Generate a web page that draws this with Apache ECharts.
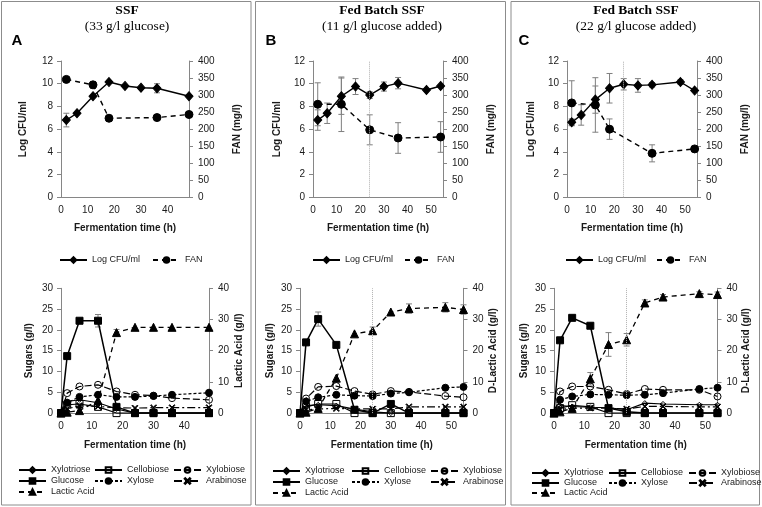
<!DOCTYPE html>
<html><head><meta charset="utf-8">
<script src="https://cdn.jsdelivr.net/npm/echarts@6/dist/echarts.min.js"></script>
<style>html,body{margin:0;padding:0;background:#fff}#c{width:762px;height:507px}</style>
</head><body><div id="c"></div><script>
const SANS = 'Liberation Sans, Arial, sans-serif';
const SERIF = 'Liberation Serif, Times New Roman, serif';
const feedTime = 24;

// ---------- Panel A (SSF) ----------
const cfuTimeA = [2, 6, 12, 18, 24, 30, 36, 48];
const cfuA     = [6.8, 7.4, 8.9, 10.15, 9.8, 9.65, 9.6, 8.9];
const cfuErrA  = [0.6, 0, 0, 0, 0, 0, 0.4, 0];
const fanTimeA = [2, 12, 18, 36, 48];
const fanA     = [346, 330, 232, 234, 243];
const fanErrA  = [0, 10, 0, 0, 0];
const tA          = [0, 2, 6, 12, 18, 24, 30, 36, 48];
const xylotrioseA = [0, 2.8, 3.2, 2.5, 1.0, 0, 0, 0, 0];
const cellobioseA = [0, 2.0, 2.2, 1.5, 0, 0, 0, 0, 0];
const xylobioseA  = [0, 4.8, 6.4, 6.8, 5.2, 4.4, 4.2, 3.6, 3.2];
const glucoseA    = [0, 13.7, 22.2, 22.2, 1.5, 0, 0, 0, 0];
const glucoseErrA = [0, 0, 0, 1.5, 0, 0, 0, 0, 0];
const xyloseA     = [0, 2.5, 3.9, 4.4, 3.9, 3.9, 4.1, 4.4, 4.9];
const arabinoseA  = [0, 1.0, 1.8, 1.6, 1.3, 1.2, 1.3, 1.3, 1.3];
const lacticA     = [0, 0.3, 0.8, 4.0, 25.8, 27.5, 27.5, 27.5, 27.5];
const lacticErrA  = [0, 0, 0, 0, 1.0, 0, 0, 0, 0];

// ---------- Panel B (Fed batch, 11 g/l) ----------
const cfuTimeB = [2, 6, 12, 18, 24, 30, 36, 48, 54];
const cfuB     = [6.8, 7.4, 8.9, 9.75, 9.0, 9.75, 10.05, 9.45, 9.8];
const cfuErrB  = [0.9, 0.9, 1.6, 0.7, 0.3, 0.4, 0.5, 0, 0];
const fanTimeB = [2, 12, 24, 36, 54];
const fanB     = [273, 273, 198, 174, 177];
const fanErrB  = [63, 80, 44, 45, 45];
const tB          = [0, 2, 6, 12, 18, 24, 30, 36, 48, 54];
const xylotrioseB = [0, 1.8, 2.0, 1.8, 1.0, 0.3, 0, 0, 0, 0];
const cellobioseB = [0, 1.5, 2.2, 2.2, 0, 0, 0, 0, 0, 0];
const xylobioseB  = [0, 3.5, 6.3, 6.5, 5.3, 4.5, 5.3, 5.1, 4.1, 3.8];
const glucoseB    = [0, 17.0, 22.6, 16.4, 0.8, 0, 2.2, 0, 0, 0];
const glucoseErrB = [0, 0.6, 1.7, 0, 0, 0, 0, 0, 0, 0];
const xyloseB     = [0, 2.8, 3.8, 4.4, 4.2, 4.1, 4.7, 5.0, 6.1, 6.3];
const arabinoseB  = [0, 0.8, 1.0, 1.1, 1.0, 1.0, 1.0, 1.5, 1.5, 1.5];
const lacticB     = [0, 0.3, 1.5, 11.2, 25.4, 26.4, 32.4, 33.5, 33.9, 33.2];
const lacticErrB  = [0, 0, 0, 0, 0, 1.2, 0, 1.5, 1.5, 1.5];

// ---------- Panel C (Fed batch, 22 g/l) ----------
const cfuTimeC = [2, 6, 12, 18, 24, 30, 36, 48, 54];
const cfuC     = [6.6, 7.25, 8.6, 9.6, 9.95, 9.85, 9.9, 10.15, 9.4];
const cfuErrC  = [0.3, 0.9, 1.2, 1.3, 0.5, 0.6, 0.2, 0.2, 0];
const fanTimeC = [2, 12, 18, 36, 54];
const fanC     = [277, 271, 200, 129, 142];
const fanErrC  = [65, 80, 30, 25, 0];
const tC          = [0, 2, 6, 12, 18, 24, 30, 36, 48, 54];
const xylotrioseC = [0, 1.8, 1.6, 1.4, 1.3, 0.8, 2.4, 2.2, 2.0, 2.0];
const cellobioseC = [0, 1.2, 1.9, 1.5, 0, 0, 0, 0, 0, 0];
const xylobioseC  = [0, 5.2, 6.4, 6.4, 5.6, 4.6, 5.8, 5.6, 5.6, 4.0];
const glucoseC    = [0, 17.5, 22.9, 21.0, 1.2, 0.3, 0, 0, 0, 0];
const glucoseErrC = [0, 0, 0, 0, 0, 0, 0, 0, 0, 0];
const xyloseC     = [0, 3.2, 4.0, 4.5, 4.4, 4.3, 4.4, 4.8, 5.8, 6.1];
const arabinoseC  = [0, 0.8, 1.2, 1.2, 1.2, 1.0, 1.6, 1.6, 1.5, 1.5];
const lacticC     = [0, 0.4, 1.5, 11.0, 22.0, 23.5, 35.3, 37.2, 38.3, 38.0];
const lacticErrC  = [0, 0, 0, 2.0, 3.8, 2.0, 1.0, 0.8, 0.6, 0.8];

// ---------- Axis ticks ----------
const cfuAxis = {min: 0, max: 12, interval: 2};
const fanAxis = {min: 0, max: 400, interval: 50};
const sugarAxis = {min: 0, max: 30, interval: 5};
const lacticAxis = {min: 0, max: 40, interval: 10};
const timeInterval = 10;

const AX = '#868686';
const TXT = '#1a1a1a';
const XPATH = 'path://M1,0 L5,4 L9,0 L10,1 L6,5 L10,9 L9,10 L5,6 L1,10 L0,9 L4,5 L0,1 Z';
const CLEAR = 'rgba(0,0,0,0)';
const STY = {
  'Log CFU/ml': {symbol: 'diamond', size: [8, 9], fill: '#000', dash: 'solid', w: 1.4},
  'FAN': {symbol: 'circle', size: 8, fill: '#000', dash: [5, 4], w: 1.4},
  'Xylotriose': {symbol: 'diamond', size: 5, fill: CLEAR, dash: 'solid', w: 1.1},
  'Cellobiose': {symbol: 'rect', size: 7, fill: CLEAR, dash: 'solid', w: 1.1},
  'Xylobiose': {symbol: 'circle', size: 7, fill: CLEAR, dash: [7, 3], w: 1.2},
  'Glucose': {symbol: 'rect', size: 7, fill: '#000', dash: 'solid', w: 1.5},
  'Xylose': {symbol: 'circle', size: 7, fill: '#000', dash: [3, 2], w: 1.2},
  'Arabinose': {symbol: XPATH, size: 6, fill: '#000', dash: [8, 3, 2, 3], w: 1.2},
  'Lactic Acid': {symbol: 'triangle', size: 8, fill: '#000', dash: [5, 4], w: 1.3}
};

const grids = [], xAxes = [], yAxes = [], series = [], legends = [], graphics = [];
const nameStyle = {fontFamily: SANS, fontSize: 10, fontWeight: 'bold', color: TXT};
const labStyle = {fontFamily: SANS, fontSize: 10, color: TXT};

function addGrid(g) {
  const gi = grids.length;
  grids.push({left: g.left, top: g.top, width: g.width, height: g.height});
  xAxes.push({
    gridIndex: gi, type: 'value', min: 0, max: g.xmax, interval: timeInterval,
    name: 'Fermentation time (h)', nameLocation: 'middle', nameGap: g.xGap, nameTextStyle: nameStyle,
    axisLine: {show: true, onZero: false, lineStyle: {color: AX, width: 1}},
    axisTick: {show: false}, splitLine: {show: false},
    axisLabel: Object.assign({margin: 8, formatter: v => (v % timeInterval === 0 ? String(v) : '')}, labStyle)
  });
  const yl = g.yl, yr = g.yr;
  yAxes.push({
    gridIndex: gi, type: 'value', position: 'left', min: yl.axis.min, max: yl.axis.max, interval: yl.axis.interval,
    name: yl.name, nameLocation: 'middle', nameRotate: 90, nameGap: yl.gap, nameTextStyle: nameStyle,
    axisLine: {show: true, lineStyle: {color: AX, width: 1}},
    axisTick: {show: true, inside: false, length: 4, lineStyle: {color: AX}},
    splitLine: {show: false}, axisLabel: Object.assign({margin: 8}, labStyle)
  });
  yAxes.push({
    gridIndex: gi, type: 'value', position: 'right', min: yr.axis.min, max: yr.axis.max, interval: yr.axis.interval,
    name: yr.name, nameLocation: 'middle', nameRotate: 90, nameGap: yr.gap, nameTextStyle: nameStyle,
    axisLine: {show: true, lineStyle: {color: AX, width: 1}},
    axisTick: {show: true, inside: false, length: 4, lineStyle: {color: AX}},
    splitLine: {show: false}, axisLabel: Object.assign({margin: 9}, labStyle)
  });
  return gi;
}

function lineSeries(name, t, v, gi, right, markFeed) {
  const s = STY[name];
  const o = {
    type: 'line', name, xAxisIndex: gi, yAxisIndex: gi * 2 + (right ? 1 : 0),
    data: t.map((x, i) => [x, v[i]]),
    symbol: s.symbol, symbolSize: s.size, showSymbol: true, showAllSymbol: true,
    lineStyle: {color: '#000', width: s.w, type: s.dash},
    itemStyle: {color: s.fill, borderColor: '#000', borderWidth: 1},
    emphasis: {disabled: true}, z: 3, silent: true
  };
  if (markFeed) {
    o.markLine = {silent: true, symbol: ['none', 'none'], label: {show: false},
      lineStyle: {type: 'dotted', color: '#b0b0b0', width: 1}, emphasis: {disabled: true},
      data: [{xAxis: feedTime}]};
  }
  series.push(o);
}

function errSeries(t, v, e, gi, right) {
  const data = t.map((x, i) => [x, v[i], e[i]]).filter(d => d[2] > 0);
  if (!data.length) return;
  series.push({
    type: 'custom', xAxisIndex: gi, yAxisIndex: gi * 2 + (right ? 1 : 0), silent: true, z: 2,
    encode: {x: 0, y: 1}, data,
    renderItem: (params, api) => {
      const x = api.value(0), y = api.value(1), er = api.value(2);
      const p1 = api.coord([x, y + er]), p2 = api.coord([x, y - er]);
      const w = 3, st = {stroke: '#7f7f7f', lineWidth: 1};
      return {type: 'group', children: [
        {type: 'line', shape: {x1: p1[0], y1: p1[1], x2: p2[0], y2: p2[1]}, style: st},
        {type: 'line', shape: {x1: p1[0] - w, y1: p1[1], x2: p1[0] + w, y2: p1[1]}, style: st},
        {type: 'line', shape: {x1: p2[0] - w, y1: p2[1], x2: p2[0] + w, y2: p2[1]}, style: st}
      ]};
    }
  });
}

function legendItem(name, left, cy) {
  legends.push({
    data: [name], left: left, top: cy - 3.5, padding: 0, itemGap: 0,
    itemWidth: 27, itemHeight: 7, selectedMode: false,
    textStyle: {fontFamily: SANS, fontSize: 9, color: TXT}
  });
}

const panels = [
  {key: 'A', title: 'SSF', sub: '(33 g/l glucose)', cx: 127, letterX: 17, feed: false,
   border: [1.5, 249.5],
   top: {left: 61, width: 128, xmax: 48, lgap: 33, rgap: 43},
   bot: {left: 61, width: 148, xmax: 48, lgap: 27, rgap: 25, lactic: 'Lactic Acid (g/l)'},
   topLeg: [59, 152], botLeg: {cols: [18, 94, 173], rows: [469, 480, 491]},
   d: {cfuT: cfuTimeA, cfu: cfuA, cfuE: cfuErrA, fanT: fanTimeA, fan: fanA, fanE: fanErrA, t: tA,
       xt: xylotrioseA, ce: cellobioseA, xb: xylobioseA, gl: glucoseA, glE: glucoseErrA,
       xy: xyloseA, ar: arabinoseA, la: lacticA, laE: lacticErrA}},
  {key: 'B', title: 'Fed Batch SSF', sub: '(11 g/l glucose added)', cx: 382, letterX: 271, feed: true,
   border: [255.5, 250],
   top: {left: 313, width: 130, xmax: 55, lgap: 31, rgap: 43},
   bot: {left: 300, width: 163.5, xmax: 54, lgap: 25, rgap: 25, lactic: 'D-Lactic Acid (g/l)'},
   topLeg: [312, 404], botLeg: {cols: [272, 351, 430], rows: [470, 481, 492]},
   d: {cfuT: cfuTimeB, cfu: cfuB, cfuE: cfuErrB, fanT: fanTimeB, fan: fanB, fanE: fanErrB, t: tB,
       xt: xylotrioseB, ce: cellobioseB, xb: xylobioseB, gl: glucoseB, glE: glucoseErrB,
       xy: xyloseB, ar: arabinoseB, la: lacticB, laE: lacticErrB}},
  {key: 'C', title: 'Fed Batch SSF', sub: '(22 g/l glucose added)', cx: 636, letterX: 524, feed: true,
   border: [511, 248.5],
   top: {left: 567, width: 130, xmax: 55, lgap: 31, rgap: 43},
   bot: {left: 554, width: 163.5, xmax: 54, lgap: 25, rgap: 24, lactic: 'D-Lactic Acid (g/l)'},
   topLeg: [565, 656], botLeg: {cols: [531, 608, 688], rows: [472, 482, 492]},
   d: {cfuT: cfuTimeC, cfu: cfuC, cfuE: cfuErrC, fanT: fanTimeC, fan: fanC, fanE: fanErrC, t: tC,
       xt: xylotrioseC, ce: cellobioseC, xb: xylobioseC, gl: glucoseC, glE: glucoseErrC,
       xy: xyloseC, ar: arabinoseC, la: lacticC, laE: lacticErrC}}
];

panels.forEach(p => {
  const d = p.d;
  graphics.push({type: 'rect', shape: {x: p.border[0], y: 1.5, width: p.border[1], height: 503.5},
    style: {fill: 'none', stroke: '#8c8c8c', lineWidth: 1}, silent: true});
  graphics.push({type: 'text', x: p.cx, y: 10.5, style: {text: p.title, font: 'bold 13.5px ' + SERIF,
    fill: '#000', textAlign: 'center', textVerticalAlign: 'middle'}});
  graphics.push({type: 'text', x: p.cx, y: 26, style: {text: p.sub, font: '13.5px ' + SERIF,
    fill: '#000', textAlign: 'center', textVerticalAlign: 'middle'}});
  graphics.push({type: 'text', x: p.letterX, y: 41, style: {text: p.key, font: 'bold 15px ' + SANS,
    fill: '#000', textAlign: 'center', textVerticalAlign: 'middle'}});

  const gt = addGrid({left: p.top.left, top: 61, width: p.top.width, height: 136.3, xmax: p.top.xmax, xGap: 26,
    yl: {axis: cfuAxis, name: 'Log CFU/ml', gap: p.top.lgap},
    yr: {axis: fanAxis, name: 'FAN (mg/l)', gap: p.top.rgap}});
  errSeries(d.cfuT, d.cfu, d.cfuE, gt, false);
  errSeries(d.fanT, d.fan, d.fanE, gt, true);
  lineSeries('Log CFU/ml', d.cfuT, d.cfu, gt, false, p.feed);
  lineSeries('FAN', d.fanT, d.fan, gt, true, false);
  legendItem('Log CFU/ml', p.topLeg[0], 259);
  legendItem('FAN', p.topLeg[1], 259);

  const gb = addGrid({left: p.bot.left, top: 288.3, width: p.bot.width, height: 124.8, xmax: p.bot.xmax, xGap: 27,
    yl: {axis: sugarAxis, name: 'Sugars (g/l)', gap: p.bot.lgap},
    yr: {axis: lacticAxis, name: p.bot.lactic, gap: p.bot.rgap}});
  errSeries(d.t, d.gl, d.glE, gb, false);
  errSeries(d.t, d.la, d.laE, gb, true);
  lineSeries('Xylotriose', d.t, d.xt, gb, false, false);
  lineSeries('Cellobiose', d.t, d.ce, gb, false, false);
  lineSeries('Xylobiose', d.t, d.xb, gb, false, false);
  lineSeries('Arabinose', d.t, d.ar, gb, false, false);
  lineSeries('Xylose', d.t, d.xy, gb, false, false);
  lineSeries('Glucose', d.t, d.gl, gb, false, p.feed);
  lineSeries('Lactic Acid', d.t, d.la, gb, true, false);
  const c = p.botLeg.cols, r = p.botLeg.rows;
  legendItem('Xylotriose', c[0], r[0]);
  legendItem('Cellobiose', c[1], r[0]);
  legendItem('Xylobiose', c[2], r[0]);
  legendItem('Glucose', c[0], r[1]);
  legendItem('Xylose', c[1], r[1]);
  legendItem('Arabinose', c[2], r[1]);
  legendItem('Lactic Acid', c[0], r[2]);
});

const chart = echarts.init(document.getElementById('c'), null, {renderer: 'canvas'});
chart.setOption({
  animation: false,
  backgroundColor: '#fff',
  grid: grids, xAxis: xAxes, yAxis: yAxes, series, legend: legends,
  graphic: {elements: graphics}
});
</script></body></html>
